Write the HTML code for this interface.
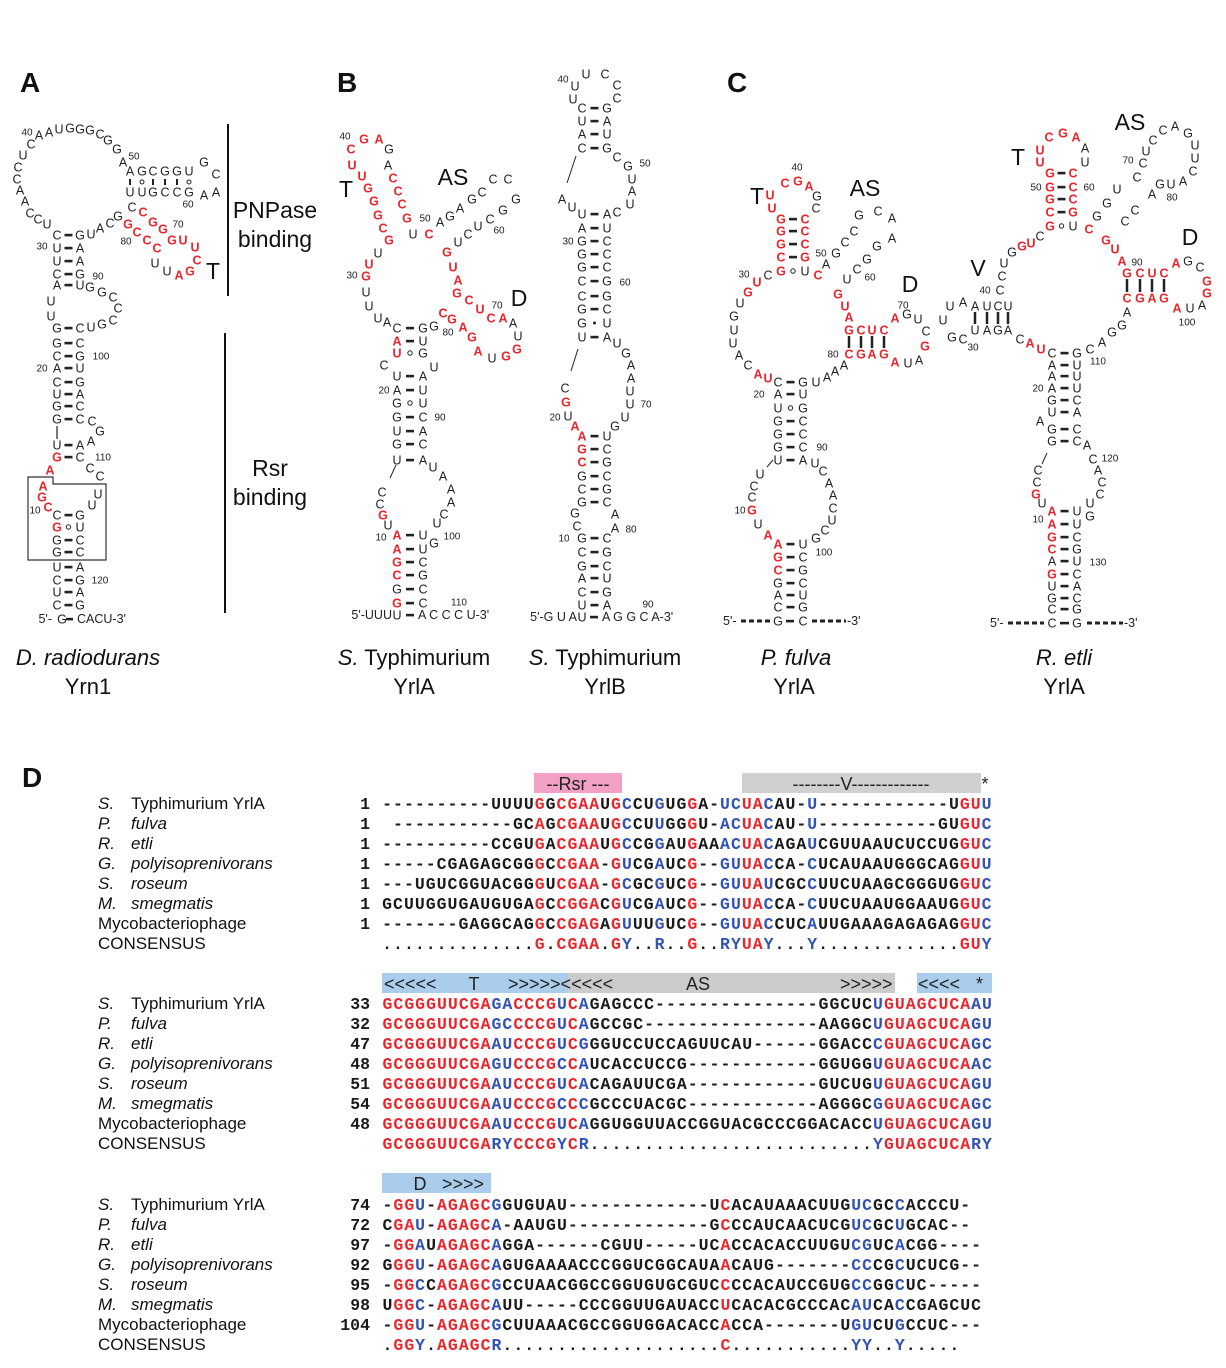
<!DOCTYPE html>
<html><head><meta charset="utf-8">
<style>
html,body{margin:0;padding:0;background:#fff;}
svg{display:block;}
.nt{font-family:"Liberation Sans",sans-serif;font-size:12.5px;fill:#222;}
.red{fill:#e8262d;font-weight:bold;}
.num{font-family:"Liberation Sans",sans-serif;font-size:10px;fill:#222;}
.big{font-family:"Liberation Sans",sans-serif;font-size:23px;fill:#111;}
.lab{font-family:"Liberation Sans",sans-serif;font-size:22px;fill:#111;}
.pl{font-family:"Liberation Sans",sans-serif;font-size:28px;font-weight:bold;fill:#111;}
.nm{font-family:"Liberation Sans",sans-serif;font-size:17px;fill:#111;}
.sq{font-family:"Liberation Mono",monospace;font-size:16.5px;font-weight:bold;}
.ann{font-family:"Liberation Sans",sans-serif;font-size:18px;fill:#222;}
</style></head>
<body>
<svg id="fig" width="1226" height="1368" viewBox="0 0 1226 1368" xmlns="http://www.w3.org/2000/svg">
<text class="pl" x="20" y="92">A</text>
<text class="pl" x="337" y="92">B</text>
<text class="pl" x="727" y="92">C</text>
<text class="pl" x="22" y="787">D</text>

<g>
<line x1="228" y1="124" x2="228" y2="296" stroke="#111" stroke-width="2"/>
<text class="big" x="275" y="218" text-anchor="middle">PNPase</text>
<text class="big" x="275" y="247" text-anchor="middle">binding</text>
</g>
<g>
<line x1="225" y1="333" x2="225" y2="613" stroke="#111" stroke-width="2"/>
<text class="big" x="270" y="476" text-anchor="middle">Rsr</text>
<text class="big" x="270" y="505" text-anchor="middle">binding</text>
</g>
<path d="M28,477 H53 V484 H106 V560 H28 Z" fill="none" stroke="#333" stroke-width="1.2"/>

<g>
<text class="lab" x="88" y="665" text-anchor="middle"><tspan font-style="italic">D. radiodurans</tspan></text>
<text class="lab" x="88" y="694" text-anchor="middle">Yrn1</text>
<text class="lab" x="414" y="665" text-anchor="middle"><tspan font-style="italic">S.</tspan> Typhimurium</text>
<text class="lab" x="414" y="694" text-anchor="middle">YrlA</text>
<text class="lab" x="605" y="665" text-anchor="middle"><tspan font-style="italic">S.</tspan> Typhimurium</text>
<text class="lab" x="605" y="694" text-anchor="middle">YrlB</text>
<text class="lab" x="796" y="665" text-anchor="middle" font-style="italic">P. fulva</text>
<text class="lab" x="794" y="694" text-anchor="middle">YrlA</text>
<text class="lab" x="1064" y="665" text-anchor="middle" font-style="italic">R. etli</text>
<text class="lab" x="1064" y="694" text-anchor="middle">YrlA</text>
</g>
<g id="rna"></g>
<g id="aln"></g>
</svg>
<script>
// ---------- alignment data ----------
const names = ["S.|Typhimurium YrlA","P.|fulva","R.|etli","G.|polyisoprenivorans","S.|roseum","M.|smegmatis","|Mycobacteriophage","|CONSENSUS"];
const italicSpecies = [false,true,true,true,true,true,false,false];
const block1 = [
"----------UUUUGGCGAAUGCCUGUGGA-UCUACAU-U------------UGUU",
"-----------GCAGCGAAUGCCUUGGGU-ACUACAU-U-----------GUGUC",
"----------CCGUGACGAAUGCCGGAUGAAACUACAGAUCGUUAAUCUCCUGGUC",
"-----CGAGAGCGGGCCGAA-GUCGAUCG--GUUACCA-CUCAUAAUGGGCAGGUU",
"---UGUCGGUACGGGUCGAA-GCGCGUCG--GUUAUCGCCUUCUAAGCGGGUGGUC",
"GCUUGGUGAUGUGAGCCGGACGUCGAUCG--GUUACCA-CUUCUAAUGGAAUGGUC",
"-------GAGGCAGGCCGAGAGUUUGUCG--GUUACCUCAUUGAAAGAGAGAGGUC"];
const cons1 = "..............G.CGAA.GY..R..G..RYUAY...Y.............GUY";
const cols1 = "..............r.rrrr.rb..b..r..bbrrb...b.............rrb";
const nums1 = ["1","1","1","1","1","1","1"];
const block2 = [
"GCGGGUUCGAGACCCGUCAGAGCCC---------------GGCUCUGUAGCUCAAU",
"GCGGGUUCGAGCCCCGUCAGCCGC----------------AAGGCUGUAGCUCAGU",
"GCGGGUUCGAAUCCCGUCGGGUCCUCCAGUUCAU------GGACCCGUAGCUCAGC",
"GCGGGUUCGAGUCCCGCCAUCACCUCCG------------GGUGGUGUAGCUCAAC",
"GCGGGUUCGAAUCCCGUCACAGAUUCGA------------GUCUGUGUAGCUCAGU",
"GCGGGUUCGAAUCCCGCCCGCCCUACGC------------AGGGCGGUAGCUCAGC",
"GCGGGUUCGAAUCCCGUCAGGUGGUUACCGGUACGCCCGGACACCUGUAGCUCAGU"];
const cons2 = "GCGGGUUCGARYCCCGYCR..........................YGUAGCUCARY";
const cols2 = "rrrrrrrrrrbbrrrrbrb..........................brrrrrrrrbb";
const nums2 = ["33","32","47","48","51","54","48"];
const block3 = [
"-GGU-AGAGCGGUGUAU-------------UCACAUAAACUUGUCGCCACCCU-",
"CGAU-AGAGCA-AAUGU-------------GCCCAUCAACUCGUCGCUGCAC--",
"-GGAUAGAGCAGGA------CGUU-----UCACCACACCUUGUCGUCACGG----",
"GGGU-AGAGCAGUGAAAACCCGGUCGGCAUAACAUG-------CCCGCUCUCG--",
"-GGCCAGAGCGCCUAACGGCCGGUGUGCGUCCCCACAUCCGUGCCGGCUC-----",
"UGGC-AGAGCAUU-----CCCGGUUGAUACCUCACACGCCCACAUCACCGAGCUC",
"-GGU-AGAGCGCUUAAACGCCGGUGGACACCACCA-------UGUCUGCCUC---"];
const cons3 = ".GGY.AGAGCR....................C...........YY..Y.....";
const cols3 = ".rrb.rrrrrb....................r...........bb..b.....";
const nums3 = ["74","72","97","92","95","98","104"];

// ---------- RNA structure placements (x, y, nucleotide; lowercase = red) ----------
const stemsA = [[57,80,[[605,'C','-','G'],[592,'U','-','A'],[580,'C','-','G'],[567,'U','-','A'],[552,'G','-','C'],[540,'G','-','C'],[527,'g','o','U'],[515,'C','-','G'],[457,'g','-','C'],[445,'U','-','A'],[419,'G','-','C'],[406,'G','-','C'],[394,'U','-','A'],[382,'C','-','G'],[368,'A','-','U'],[356,'C','-','G'],[343,'G','-','C'],[328,'G','-','C'],[285,'A','-','U'],[274,'C','-','G'],[261,'U','-','A'],[248,'U','-','A'],[235,'C','-','G']]]];
const ntA = [[51,301,'U'],[51,316,'U'],[90,287,'G'],[102,292,'G'],[113,297,'C'],[118,308,'C'],[113,320,'C'],[102,324,'G'],[91,327,'U'],
[91,234,'U'],[100,228,'A'],[110,223,'C'],[118,216,'G'],[132,207,'C'],
[47,224,'U'],[38,219,'C'],[30,213,'C'],[25,201,'A'],[20,190,'A'],[17,179,'C'],[18,167,'C'],[23,155,'U'],[31,144,'C'],[39,135,'A'],[49,132,'A'],[59,129,'U'],[70,128,'G'],[80,129,'G'],[90,130,'G'],[100,134,'C'],[108,140,'G'],[117,149,'G'],[123,162,'A'],
[130,171,'A'],[142,171,'G'],[153,171,'C'],[165,171,'G'],[177,171,'G'],[189,171,'U'],[204,162,'G'],[216,174,'C'],[216,192,'A'],[204,195,'A'],
[130,192,'U'],[142,192,'U'],[153,192,'G'],[165,192,'C'],[177,192,'C'],[189,192,'G'],
[143,212,'c'],[153,222,'g'],[163,229,'g'],[172,240,'g'],[183,240,'u'],[195,247,'u'],[197,260,'c'],[190,271,'g'],[179,275,'a'],[167,271,'U'],[155,263,'U'],[128,224,'g'],[137,232,'c'],[147,240,'c'],[157,248,'c'],
[92,421,'C'],[100,431,'G'],[91,441,'A'],[90,468,'C'],[100,476,'C'],[98,494,'U'],[92,505,'U'],
[50,470,'a'],[43,486,'a'],[42,497,'g'],[48,507,'c']];
const numA = [['40',27,132],['50',134,156],['60',188,204],['70',178,224],['80',126,241],['30',42,246],['90',98,276],['100',101,356],['20',42,368],['110',103,457],['10',35,510],['120',100,580]];

const stemsB1 = [[397,423,[[603,'g','-','C'],[589,'G','-','C'],[575,'c','-','G'],[562,'g','-','C'],[549,'a','-','U'],[535,'a','-','U'],[460,'U','-','A'],[444,'G','-','C'],[431,'U','-','A'],[417,'G','-','C'],[403,'G','o','U'],[390,'A','-','U'],[376,'U','-','A'],[353,'u','o','G'],[341,'a','-','U'],[328,'C','-','G']]]];
const ntB1 = [[388,525,'U'],[383,515,'g'],[380,504,'C'],[382,492,'C'],[434,543,'G'],[437,523,'U'],[444,514,'C'],[451,502,'A'],[451,489,'A'],[443,476,'A'],[433,467,'U'],[384,365,'C'],[434,367,'U'],[434,326,'G'],[378,318,'U'],[387,322,'A'],[369,306,'U'],[366,292,'U'],[366,276,'g'],[369,264,'u'],[378,253,'U'],[389,240,'g'],[413,234,'U'],
[383,228,'c'],[378,215,'g'],[374,201,'g'],[368,188,'g'],[362,176,'u'],[352,165,'u'],[351,149,'c'],[364,139,'g'],[379,139,'a'],[389,149,'G'],[388,165,'A'],[393,178,'c'],[398,191,'c'],[402,204,'c'],[407,218,'g'],
[429,234,'c'],[440,222,'A'],[450,216,'G'],[460,208,'A'],[472,199,'G'],[482,192,'C'],[493,179,'C'],[508,179,'C'],[516,199,'G'],[503,210,'G'],[490,219,'C'],[478,226,'U'],[468,234,'C'],[458,242,'U'],
[447,252,'g'],[453,267,'u'],[458,280,'a'],[457,293,'g'],[469,300,'c'],[480,309,'u'],[491,318,'c'],[503,318,'a'],[513,323,'A'],[518,336,'U'],[517,349,'g'],[506,356,'g'],[492,358,'U'],[478,351,'a'],[472,337,'g'],[463,327,'a'],[452,319,'g'],[443,313,'c']];
const numB1 = [['10',381,537],['100',452,536],['20',384,390],['90',440,417],['80',448,332],['30',352,275],['40',345,136],['50',425,218],['60',499,230],['70',497,305],['110',459,602]];

const stemsB2 = [[582,607,[[605,'U','-','A'],[592,'C','-','G'],[578,'A','-','U'],[566,'G','-','C'],[552,'C','-','G'],[538,'G','-','C'],[502,'G','-','C'],[489,'C','-','G'],[476,'G','-','C'],[462,'c','-','G'],[449,'g','-','C'],[436,'a','-','U'],[337,'U','-','A'],[323,'G','.','U'],[309,'G','-','C'],[296,'C','-','G'],[281,'C','-','G'],[267,'G','-','C'],[254,'G','-','C'],[241,'G','-','C'],[228,'A','-','U'],[214,'U','-','A'],[148,'C','-','G'],[134,'A','-','U'],[121,'U','-','A'],[108,'C','-','G']]]];
const ntB2 = [[575,513,'G'],[577,526,'C'],[615,514,'A'],[615,528,'A'],[575,426,'a'],[568,416,'U'],[566,402,'g'],[565,388,'C'],[615,426,'G'],[625,417,'U'],[630,404,'U'],[630,391,'U'],[631,378,'A'],[631,365,'A'],[626,353,'G'],[617,343,'U'],[617,212,'C'],[562,199,'A'],[572,207,'U'],[630,204,'U'],[632,191,'A'],[632,179,'U'],[628,166,'G'],[617,157,'C'],[573,99,'U'],[575,86,'U'],[586,74,'U'],[605,74,'C'],[617,85,'C'],[617,98,'C']];
const numB2 = [['10',564,538],['80',631,529],['20',555,417],['70',646,404],['60',625,282],['30',568,241],['50',645,163],['40',563,79],['90',648,604]];

const stemsC1 = [[778,803,[[607,'C','-','G'],[595,'A','-','U'],[583,'G','-','C'],[570,'c','-','G'],[557,'g','-','C'],[544,'a','-','U'],[460,'U','-','A'],[447,'G','-','C'],[434,'G','-','C'],[421,'G','-','C'],[408,'U','o','G'],[394,'A','-','U'],[382,'C','-','G']]],
 [781,805,[[219,'g','-','c'],[231,'g','-','c'],[244,'g','-','c'],[257,'c','-','g'],[271,'g','o','U']]]];
const ntC1 = [[770,195,'u'],[772,208,'u'],[785,183,'c'],[798,181,'g'],[809,186,'a'],[817,196,'G'],[816,208,'C'],
[757,282,'u'],[768,275,'C'],[748,292,'g'],[740,303,'U'],[734,316,'G'],[734,330,'U'],[733,343,'U'],[739,355,'A'],[748,365,'C'],[758,374,'a'],[768,378,'u'],
[816,382,'U'],[827,377,'A'],[835,371,'A'],[844,365,'A'],
[818,275,'c'],[826,264,'A'],[836,253,'G'],[845,242,'C'],[854,231,'C'],[859,215,'G'],[878,211,'C'],[892,218,'A'],[892,238,'A'],[877,246,'G'],[867,259,'G'],[857,269,'C'],[847,279,'U'],
[838,294,'g'],[845,306,'u'],[849,317,'a'],[849,330,'g'],[861,330,'c'],[872,330,'u'],[884,330,'c'],[849,354,'c'],[861,354,'g'],[872,354,'a'],[884,354,'g'],
[895,318,'a'],[907,314,'G'],[918,319,'U'],[926,331,'C'],[925,346,'g'],[919,360,'A'],[908,363,'U'],[895,362,'a'],
[816,538,'G'],[825,530,'C'],[832,520,'U'],[833,508,'C'],[833,495,'A'],[829,483,'A'],[823,471,'C'],[815,463,'U'],
[768,535,'a'],[758,524,'U'],[752,510,'g'],[752,497,'C'],[754,486,'C'],[760,474,'U']];
const numC1 = [['40',797,167],['30',744,274],['50',821,253],['60',870,277],['70',903,305],['80',833,354],['90',822,447],['20',759,394],['100',824,552],['10',740,510]];

const stemsC2 = [[1052,1077,[[353,'C','-','G'],[365,'A','-','U'],[376,'A','-','U'],[388,'A','-','U'],[400,'G','-','C'],[412,'U','-','A'],[429,'G','-','C'],[441,'G','-','C'],[511,'a','-','U'],[524,'a','-','U'],[537,'g','-','C'],[549,'c','-','G'],[561,'A','-','U'],[574,'g','-','C'],[586,'U','-','A'],[598,'G','-','C'],[609,'C','-','G']]],
 [1050,1073,[[173,'g','-','c'],[187,'g','-','c'],[199,'g','-','c'],[212,'c','-','g'],[226,'g','o','U']]]];
const ntC2 = [[1040,150,'u'],[1040,162,'u'],[1049,137,'c'],[1063,133,'g'],[1076,137,'a'],[1085,148,'A'],[1085,162,'U'],
[1089,229,'c'],[1106,240,'g'],[1115,249,'u'],[1122,261,'a'],
[1097,216,'G'],[1107,203,'G'],[1117,189,'U'],[1137,177,'C'],[1143,163,'C'],[1146,151,'U'],[1153,140,'C'],[1163,130,'C'],[1175,126,'A'],[1188,133,'G'],[1195,145,'U'],[1195,158,'U'],[1193,171,'C'],[1183,181,'A'],[1171,184,'U'],[1160,184,'G'],[1152,194,'A'],[1135,210,'C'],[1125,221,'C'],
[950,306,'U'],[963,302,'A'],[975,306,'A'],[987,306,'U'],[998,306,'C'],[1008,306,'U'],[975,330,'U'],[987,330,'A'],[998,330,'G'],[1008,330,'A'],[943,320,'U'],[952,337,'G'],[963,339,'C'],
[1000,290,'C'],[1002,276,'C'],[1004,263,'U'],[1012,252,'G'],[1022,246,'g'],[1031,243,'u'],[1040,236,'C'],
[1020,339,'C'],[1030,343,'a'],[1041,349,'u'],
[1127,273,'g'],[1140,273,'c'],[1152,273,'u'],[1164,273,'c'],[1127,298,'c'],[1140,298,'g'],[1152,298,'a'],[1164,298,'g'],
[1176,263,'a'],[1188,261,'G'],[1200,267,'C'],[1207,281,'g'],[1207,293,'g'],[1202,305,'A'],[1190,308,'U'],[1177,308,'a'],
[1127,312,'A'],[1122,325,'G'],[1112,332,'G'],[1102,342,'A'],[1090,349,'C'],
[1040,421,'A'],[1038,470,'C'],[1037,482,'C'],[1036,494,'g'],[1042,503,'U'],[1087,445,'A'],[1093,459,'C'],[1098,470,'A'],[1102,482,'C'],[1100,494,'C'],[1090,503,'U'],[1090,516,'G']];
const numC2 = [['50',1036,187],['60',1089,187],['70',1128,160],['80',1172,197],['90',1137,262],['100',1187,322],['110',1098,361],['120',1110,458],['130',1098,562],['10',1038,519],['20',1038,388],['30',973,347],['40',985,290]];

const NS = "http://www.w3.org/2000/svg";
const rna = document.getElementById('rna');
const aln = document.getElementById('aln');

function el(tag, attrs, parent) {
  const e = document.createElementNS(NS, tag);
  for (const k in attrs) e.setAttribute(k, attrs[k]);
  parent.appendChild(e);
  return e;
}
function nt(x, y, ch) {
  const isRed = ch !== ch.toUpperCase();
  const t = el('text', {x: x, y: y + 4.5, 'text-anchor': 'middle', class: 'nt' + (isRed ? ' red' : '')}, rna);
  
  
  t.textContent = ch.toUpperCase();
}
function num(s, x, y) {
  const t = el('text', {x: x, y: y + 3.5, 'text-anchor': 'middle', class: 'num'}, rna);
  
  
  t.textContent = s;
}
function stems(list) {
  list.forEach(function(s) {
    const xl = s[0], xr = s[1], xm = (xl + xr) / 2;
    s[2].forEach(function(r) {
      nt(xl, r[0], r[1]); nt(xr, r[0], r[3]);
      if (r[2] === '-') el('rect', {x: xm - 4, y: r[0] - 1.2, width: 8, height: 2.6, fill: '#222'}, rna);
      else if (r[2] === 'o') el('circle', {cx: xm, cy: r[0], r: 2.2, fill: 'none', stroke: '#222', 'stroke-width': 1}, rna);
      else el('circle', {cx: xm, cy: r[0], r: 1.5, fill: '#222'}, rna);
    });
  });
}
function txt(x, y, s, anchor, cls) {
  const t = el('text', {x: x, y: y, 'text-anchor': anchor || 'start', class: cls || 'nt'}, rna);
  
  
  t.textContent = s;
  return t;
}
function line(x1, y1, x2, y2, w, dash) {
  const l = el('line', {x1: x1, y1: y1, x2: x2, y2: y2, stroke: '#222', 'stroke-width': w || 1}, rna);
  if (dash) l.setAttribute('stroke-dasharray', dash);
}

[[stemsA, ntA, numA], [stemsB1, ntB1, numB1], [stemsB2, ntB2, numB2], [stemsC1, ntC1, numC1], [stemsC2, ntC2, numC2]].forEach(function(p) {
  stems(p[0]);
  p[1].forEach(function(n) { nt(n[0], n[1], n[2]); });
  p[2].forEach(function(n) { num(n[0], n[1], n[2]); });
});
line(57, 426, 57, 439, 1.2);
[130,142,153,165,177,189].forEach(function(x, i){ if (i===1||i===5) el('circle',{cx:x,cy:182,r:2,fill:'none',stroke:'#222'},rna); else el('rect',{x:x-1,y:179,width:2,height:6,fill:'#222'},rna); });
line(390, 478, 396, 465, 1); line(578, 349, 571, 371, 1); line(576, 156, 567, 183, 1);
line(767, 467, 773, 460, 1); line(1047, 453, 1042, 464, 1);
[849,861,872,884].forEach(function(x){ line(x, 336, x, 348, 2.5); });
[1127,1140,1152,1164].forEach(function(x){ line(x, 279, x, 292, 2.5); });
[975,987,998,1008].forEach(function(x){ line(x, 312, x, 324, 2.5); });
txt(52, 623, "5'-", 'end'); nt(62, 619, 'G'); el('rect',{x:66,y:617.8,width:7,height:2.6,fill:'#222'},rna); txt(77, 623, "CACU-3'");
txt(392, 619, "5'-UUU", 'end'); nt(397, 615, 'U'); el('rect',{x:406,y:613.8,width:8,height:2.6,fill:'#222'},rna); txt(418, 619, "A C C C U-3'");
txt(577, 621, "5'-G U A", 'end'); nt(582, 617, 'U'); el('rect',{x:590,y:615.8,width:8,height:2.6,fill:'#222'},rna); txt(602, 621, "A G G C A-3'");
txt(723, 625, "5'-"); line(741, 621, 772, 621, 3, '5,3'); nt(778, 621, 'G'); el('rect',{x:786,y:619.8,width:8,height:2.6,fill:'#222'},rna); nt(803, 621, 'C'); line(812, 621, 846, 621, 3, '5,3'); txt(847, 625, "-3'");
txt(990, 627, "5'-"); line(1008, 623, 1044, 623, 3, '5,3'); nt(1052, 623, 'C'); el('rect',{x:1060,y:621.8,width:9,height:2.6,fill:'#222'},rna); nt(1077, 623, 'G'); line(1087, 623, 1123, 623, 3, '5,3'); txt(1124, 627, "-3'");
[['T',213,279],['T',346,197],['AS',453,185],['D',519,306],['T',757,204],['AS',865,196],['D',910,292],['T',1018,165],['AS',1130,130],['V',978,276],['D',1190,245]].forEach(function(d){
  const t = txt(d[1], d[2], d[0], 'middle', 'big');
  
});

// ---------- alignment ----------
const CW = 10.9, X0 = 382, XEND = 992;
const RED = '#e8262d', BLUE = '#3352b5', BLACK = '#1a1a1a';
function drawBlock(seqs, cons, cols, nums, y0, rightAlign) {
  const total = cons.length;
  names.forEach(function(n, i) {
    const y = y0 + i * 20;
    const parts = n.split('|');
    const g = el('text', {x: 98, y: y + 6, class: 'nm'}, aln);
    
    
    if (parts[0]) {
      const a = el('tspan', {'font-style': 'italic'}, g); a.textContent = parts[0];
      const b = el('tspan', {x: 131}, g); if (italicSpecies[i]) b.setAttribute('font-style', 'italic'); b.textContent = parts[1];
    } else g.textContent = parts[1];
    let s;
    if (i < seqs.length) {
      s = seqs[i];
      const nn = el('text', {x: 370, y: y + 6, 'text-anchor': 'end', class: 'sq', fill: BLACK}, aln);
      
      
      nn.textContent = nums[i];
    } else s = cons;
    const st = rightAlign ? XEND - s.length * CW : X0;
    const off = rightAlign ? total - s.length : 0;
    const row = el('text', {y: y + 6, class: 'sq'}, aln);
    
    
    for (let k = 0; k < s.length; k++) {
      const ch = s[k];
      const cc = cols[k + off] || '.';
      let fill = BLACK;
      if (ch !== '-' && ch !== '.') { if (cc === 'r') fill = RED; else if (cc === 'b') fill = BLUE; }
      const sp = el('tspan', {x: (st + k * CW + CW / 2).toFixed(1), 'text-anchor': 'middle', fill: fill}, row);
      sp.textContent = ch;
    }
  });
}
function bar(x, y, w, color, name) {
  const r = el('rect', {x: x, y: y, width: w, height: 20, fill: color}, aln);
  
  
}
function annText(x, y, s, anchor) {
  const t = el('text', {x: x, y: y, class: 'ann', 'text-anchor': anchor || 'start'}, aln);
  
  
  t.textContent = s;
}
bar(534, 773, 88, '#f3a0c6', 'rsr-bar');
bar(742, 773, 239, '#d0d0d0', 'v-bar');
annText(578, 790, '--Rsr ---', 'middle');
annText(861, 790, '--------V-------------', 'middle');
annText(985, 790, '*', 'middle');
bar(382, 973, 186, '#a9cdea', 't-bar');
bar(568, 973, 327, '#cbcbcb', 'as-bar');
bar(917, 973, 75, '#a9cdea', 'acceptor-bar');
annText(384, 990, '<<<<<'); annText(474, 990, 'T', 'middle'); annText(508, 990, '>>>>><<<<<');
annText(698, 990, 'AS', 'middle'); annText(840, 990, '>>>>>'); annText(918, 990, '<<<<'); annText(976, 990, '*');
bar(382, 1173, 109, '#a9cdea', 'd-bar');
annText(420, 1190, 'D', 'middle'); annText(442, 1190, '>>>>');

drawBlock(block1, cons1, cols1, nums1, 803, true);
drawBlock(block2, cons2, cols2, nums2, 1003, false);
drawBlock(block3, cons3, cols3, nums3, 1204, false);
</script>
</body></html>
